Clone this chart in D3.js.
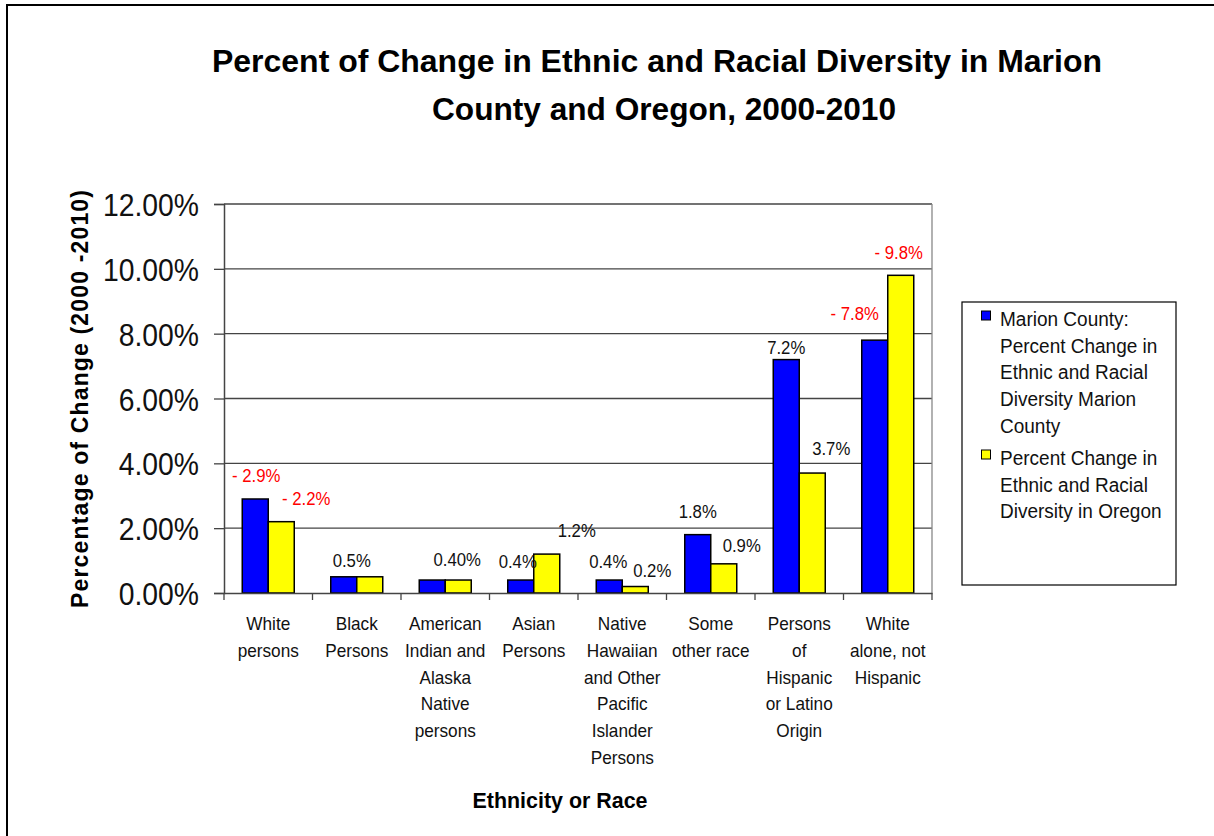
<!DOCTYPE html>
<html>
<head>
<meta charset="utf-8">
<script src="https://cdn.jsdelivr.net/npm/d3@7"></script>
<style>
  body { margin: 0; background: #fff; }
  svg { display: block; font-family: "Liberation Sans", Arial, sans-serif; }
</style>
</head>
<body>
<svg id="chart" width="1214" height="836"></svg>
<script>
// data
const categories = [
  'White persons', 'Black Persons', 'American Indian and Alaska Native persons',
  'Asian Persons', 'Native Hawaiian and Other Pacific Islander Persons',
  'Some other race', 'Persons of Hispanic or Latino Origin', 'White alone, not Hispanic'
]
const categoryLines = [
  ['White', 'persons'],
  ['Black', 'Persons'],
  ['American', 'Indian and', 'Alaska', 'Native', 'persons'],
  ['Asian', 'Persons'],
  ['Native', 'Hawaiian', 'and Other', 'Pacific', 'Islander', 'Persons'],
  ['Some', 'other race'],
  ['Persons', 'of', 'Hispanic', 'or Latino', 'Origin'],
  ['White', 'alone, not', 'Hispanic']
]
const marionValues = [0.029, 0.005, 0.004, 0.004, 0.004, 0.018, 0.072, 0.078]
const oregonValues = [0.022, 0.005, 0.004, 0.012, 0.002, 0.009, 0.037, 0.098]
const marionLabels = ['- 2.9%', '0.5%', null, '0.4%', '0.4%', '1.8%', '7.2%', '- 7.8%']
const oregonLabels = ['- 2.2%', null, '0.40%', '1.2%', '0.2%', '0.9%', '3.7%', '- 9.8%']
const redLabels = ['- 2.9%', '- 2.2%', '- 7.8%', '- 9.8%']
const yTicks = [0, 0.02, 0.04, 0.06, 0.08, 0.10, 0.12]
const seriesNames = ['marion', 'oregon']
const legendLines = [
  ['Marion County:', 'Percent Change in', 'Ethnic and Racial', 'Diversity Marion', 'County'],
  ['Percent Change in', 'Ethnic and Racial', 'Diversity in Oregon']
]
const colors = { marion: '#0000ff', oregon: '#ffff00' }

const width = 1214
const height = 836
const plotLeft = 224
const plotRight = 932
const plotTop = 204
const plotBottom = 593
const barWidth = 26

// squeeze text horizontally so it looks like the narrow Arial of the original
function condense(sel, factor) {
  sel.each(function () {
    const w = this.getComputedTextLength()
    d3.select(this)
        .attr('textLength', w * factor)
        .attr('lengthAdjust', 'spacingAndGlyphs')
  })
}

const svg = d3.select('#chart')

svg.append('rect')
    .attr('width', width)
    .attr('height', height)
    .attr('fill', '#fff')

// outer frame (right/bottom edges fall outside the picture)
svg.append('rect')
    .attr('x', 7)
    .attr('y', 5)
    .attr('width', 1230)
    .attr('height', 860)
    .attr('fill', 'none')
    .attr('stroke', '#000')
    .attr('stroke-width', 2)

// title
const titleLines = [
  { text: 'Percent of Change in Ethnic and Racial Diversity in Marion', x: 657, y: 72, len: 890 },
  { text: 'County and Oregon, 2000-2010', x: 664, y: 120, len: 464 }
]
svg.selectAll('text.title')
  .data(titleLines)
  .join('text')
    .attr('class', 'title')
    .attr('x', d => d.x)
    .attr('y', d => d.y)
    .attr('text-anchor', 'middle')
    .attr('font-size', 31)
    .attr('font-weight', 'bold')
    .attr('textLength', d => d.len)
    .attr('lengthAdjust', 'spacingAndGlyphs')
    .text(d => d.text)

const x0 = d3.scaleBand()
    .domain(categories)
    .range([plotLeft, plotRight])
    .padding(0)

const x1 = d3.scaleBand()
    .domain(seriesNames)
    .range([(x0.bandwidth() - 2 * barWidth) / 2, (x0.bandwidth() + 2 * barWidth) / 2])

const y = d3.scaleLinear()
    .domain([0, 0.12])
    .range([plotBottom, plotTop])

// gridlines
svg.append('g')
  .selectAll('line')
  .data(yTicks.slice(1))
  .join('line')
    .attr('x1', plotLeft)
    .attr('x2', plotRight)
    .attr('y1', d => y(d))
    .attr('y2', d => y(d))
    .attr('stroke', '#444')
    .attr('stroke-width', 1.3)

svg.append('line')
    .attr('x1', plotRight).attr('x2', plotRight)
    .attr('y1', plotTop).attr('y2', plotBottom)
    .attr('stroke', '#888')
    .attr('stroke-width', 1.3)

// bars
const rows = categories.map((c, i) => ({
  cat: c,
  i,
  values: [
    { key: 'marion', value: marionValues[i], label: marionLabels[i] },
    { key: 'oregon', value: oregonValues[i], label: oregonLabels[i] }
  ]
}))

const groups = svg.append('g')
  .selectAll('g')
  .data(rows)
  .join('g')
    .attr('transform', d => `translate(${x0(d.cat)},0)`)

groups.selectAll('rect')
  .data(d => d.values)
  .join('rect')
    .attr('x', d => x1(d.key))
    .attr('y', d => y(d.value))
    .attr('width', x1.bandwidth())
    .attr('height', d => y(0) - y(d.value))
    .attr('fill', d => colors[d.key])
    .attr('stroke', '#000')
    .attr('stroke-width', 1.5)

// data labels, nudged like the hand placed labels in the original
const labelNudge = [
  [[1, -17], [25, -17]],
  [[8, -10], [0, 0]],
  [[0, 0], [-1, -14]],
  [[-3, -12], [30, -17]],
  [[-1, -12], [17, -10]],
  [[0, -17], [18, -12]],
  [[0, -6], [19, -18]],
  [[-20, -20], [-2, -16]]
]
groups.selectAll('text.val')
  .data(d => d.values.map((v, j) => ({ ...v, nudge: labelNudge[d.i][j] })).filter(v => v.label))
  .join('text')
    .attr('class', 'val')
    .attr('x', d => x1(d.key) + x1.bandwidth() / 2 + d.nudge[0])
    .attr('y', d => y(d.value) + d.nudge[1])
    .attr('text-anchor', 'middle')
    .attr('font-size', 18)
    .attr('fill', d => redLabels.includes(d.label) ? '#ff0000' : '#111')
    .text(d => d.label)
    .call(condense, 0.93)

// y axis
const yAxis = svg.append('g')
    .attr('transform', `translate(${plotLeft},0)`)
    .call(d3.axisLeft(y).tickValues(yTicks).tickFormat(d3.format('.2%')).tickSize(10).tickPadding(15))
yAxis.select('.domain').attr('stroke', '#444').attr('stroke-width', 1.5)
yAxis.selectAll('.tick line').attr('stroke', '#444').attr('stroke-width', 1.3)
yAxis.selectAll('.tick text')
    .attr('font-size', 32)
    .attr('font-family', '"Liberation Sans", Arial, sans-serif')
    .attr('fill', '#111')
    .attr('dy', '0.36em')
    .call(condense, 0.885)

// x axis
const xAxis = svg.append('g')
    .attr('transform', `translate(0,${plotBottom})`)
    .call(d3.axisBottom(x0).tickSize(0).tickFormat(''))
xAxis.select('.domain').attr('stroke', '#444').attr('stroke-width', 1.5)

svg.append('g')
  .selectAll('line')
  .data(d3.range(categories.length + 1))
  .join('line')
    .attr('x1', i => plotLeft + i * x0.step())
    .attr('x2', i => plotLeft + i * x0.step())
    .attr('y1', plotBottom)
    .attr('y2', plotBottom + 7)
    .attr('stroke', '#444')
    .attr('stroke-width', 1.3)

svg.append('g')
  .selectAll('text')
  .data(categories)
  .join('text')
    .attr('x', d => x0(d) + x0.bandwidth() / 2)
    .attr('y', 630)
    .attr('text-anchor', 'middle')
    .attr('font-size', 18.5)
    .attr('fill', '#111')
  .selectAll('tspan')
  .data((d, i) => categoryLines[i])
  .join('tspan')
    .attr('x', function () { return this.parentNode.getAttribute('x') })
    .attr('dy', (d, i) => i === 0 ? 0 : 26.8)
    .text(d => d)
    .call(condense, 0.93)

// axis titles
svg.append('text')
    .attr('x', 560)
    .attr('y', 808)
    .attr('text-anchor', 'middle')
    .attr('font-size', 22)
    .attr('font-weight', 'bold')
    .attr('textLength', 175)
    .attr('lengthAdjust', 'spacingAndGlyphs')
    .text('Ethnicity or Race')

svg.append('text')
    .attr('transform', 'translate(88,399) rotate(-90)')
    .attr('text-anchor', 'middle')
    .attr('font-size', 23)
    .attr('font-weight', 'bold')
    .attr('textLength', 418)
    .attr('lengthAdjust', 'spacing')
    .text('Percentage of Change (2000 -2010)')

// legend
const legend = svg.append('g')
legend.append('rect')
    .attr('x', 962)
    .attr('y', 302)
    .attr('width', 214)
    .attr('height', 283)
    .attr('fill', '#fff')
    .attr('stroke', '#000')
    .attr('stroke-width', 1.2)

const legendTops = [326, 465]
seriesNames.forEach((s, k) => {
  legend.append('rect')
      .attr('x', 981.5)
      .attr('y', legendTops[k] - 15)
      .attr('width', 9)
      .attr('height', 9)
      .attr('fill', colors[s])
      .attr('stroke', '#000')
      .attr('stroke-width', 1)
  legend.append('text')
      .attr('font-size', 20)
      .attr('fill', '#111')
    .selectAll('tspan')
    .data(legendLines[k])
    .join('tspan')
      .attr('x', 1000)
      .attr('y', (d, i) => legendTops[k] + i * 26.7)
      .text(d => d)
      .call(condense, 0.95)
})
</script>
</body>
</html>
